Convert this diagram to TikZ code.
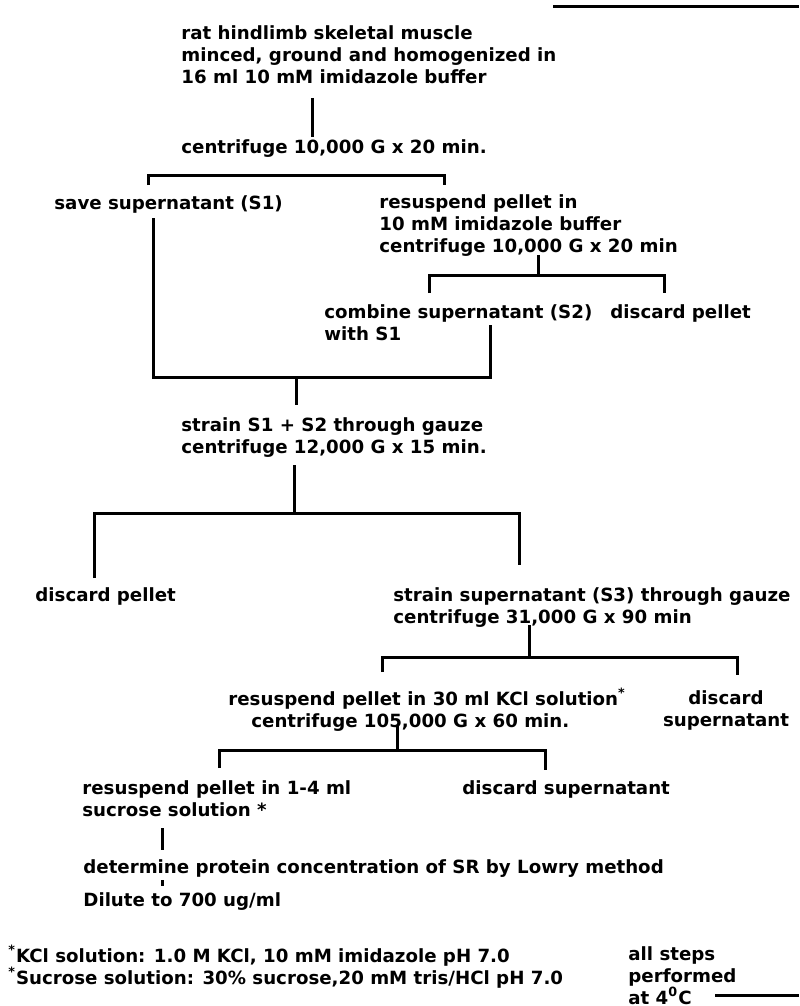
\documentclass[tikz,border=0pt]{standalone}
\usepackage{fontspec}
\setmainfont{DejaVu Sans}

\begin{document}
\begin{tikzpicture}[x=0.5pt,y=-0.5pt,
  every node/.style={font=\fontsize{9.1}{11.1}\selectfont\bfseries},
  tx/.style={anchor=north west,inner sep=0pt,align=left},
  ln/.style={line width=1.5pt}]
\useasboundingbox (0,0) rectangle (799,1006);
% text
\node[tx] (start) at (181,25) {rat hindlimb skeletal muscle\\minced, ground and homogenized in\\16 ml 10 mM imidazole buffer};
\node[tx] (cen1) at (181,139) {centrifuge 10,000 G x 20 min.};
\node[tx] (save) at (54,195) {save supernatant (S1)};
\node[tx] (res1) at (379,194) {resuspend pellet in\\10 mM imidazole buffer\\centrifuge 10,000 G x 20 min};
\node[tx] (comb) at (324,304) {combine supernatant (S2)\\with S1};
\node[tx] (dp1) at (610,304) {discard pellet};
\node[tx] (str1) at (181,417) {strain S1 + S2 through gauze\\centrifuge 12,000 G x 15 min.};
\node[tx] (dp2) at (35,587) {discard pellet};
\node[tx] (str2) at (393,587) {strain supernatant (S3) through gauze\\centrifuge 31,000 G x 90 min};
\node[tx] (res2) at (228,688) {resuspend pellet in 30 ml KCl solution\textsuperscript{*}\\\hspace*{11.5pt}centrifuge 105,000 G x 60 min.};
\node[tx,anchor=north,align=center] (ds1) at (726,690) {discard\\supernatant};
\node[tx] (res3) at (82,780) {resuspend pellet in 1-4 ml\\sucrose solution *};
\node[tx] (ds2) at (462,780) {discard supernatant};
\node[tx] (det) at (83,859) {determine protein concentration of SR by Lowry method};
\node[tx] (dil) at (83,892) {Dilute to 700 ug/ml};
\node[tx] (fn1) at (8,945) {\textsuperscript{*}KCl solution: 1.0 M KCl, 10 mM imidazole pH 7.0};
\node[tx] (fn2) at (8,967) {\textsuperscript{*}Sucrose solution: 30\% sucrose,20 mM tris/HCl pH 7.0};
\node[tx] (note) at (628,946) {all steps\\performed\\at 4\textsuperscript{0}C};
% junctions
\coordinate (r0a) at (553,7);   \coordinate (r0b) at (799,7);
\coordinate (v1a) at (312,98);  \coordinate (v1b) at (312,137);
\coordinate (b1l) at (148,175); \coordinate (b1r) at (444,175);
\coordinate (s1a) at (153,218); \coordinate (j1l) at (153,377);
\coordinate (j1r) at (490,377); \coordinate (s2a) at (490,325);
\coordinate (j1m) at (296,377); \coordinate (v3b) at (296,405);
\coordinate (v2a) at (538,255); \coordinate (b2m) at (538,275);
\coordinate (b2l) at (429,275); \coordinate (b2r) at (664,275);
\coordinate (v4a) at (294,465); \coordinate (b3m) at (294,513);
\coordinate (b3l) at (94,513);  \coordinate (b3r) at (519,513);
\coordinate (v5a) at (529,625); \coordinate (b4m) at (529,657);
\coordinate (b4l) at (382,657); \coordinate (b4r) at (737,657);
\coordinate (v6a) at (397,726); \coordinate (b5m) at (397,750);
\coordinate (b5l) at (219,750); \coordinate (b5r) at (545,750);
\coordinate (v7a) at (162,828); \coordinate (v7b) at (162,850);
\coordinate (v8a) at (162,880); \coordinate (v8b) at (162,886);
\coordinate (r1a) at (715,995); \coordinate (r1b) at (799,995);
% lines
\draw[ln] (r0a) -- (r0b);
\draw[ln] (v1a) -- (v1b);
\draw[ln] ([yshift=-5pt]b1l) -- (b1l) -- (b1r) -- ([yshift=-5pt]b1r);
\draw[ln] (s1a) -- (j1l) -- (j1r) -- (s2a);
\draw[ln] (j1m) -- (v3b);
\draw[ln] (v2a) -- (b2m);
\draw[ln] ([yshift=-9pt]b2l) -- (b2l) -- (b2r) -- ([yshift=-9pt]b2r);
\draw[ln] (v4a) -- (b3m);
\draw[ln] ([yshift=-32.5pt]b3l) -- (b3l) -- (b3r) -- ([yshift=-26pt]b3r);
\draw[ln] (v5a) -- (b4m);
\draw[ln] ([yshift=-7.5pt]b4l) -- (b4l) -- (b4r) -- ([yshift=-9pt]b4r);
\draw[ln] (v6a) -- (b5m);
\draw[ln] ([yshift=-9pt]b5l) -- (b5l) -- (b5r) -- ([yshift=-10pt]b5r);
\draw[ln] (v7a) -- (v7b);
\draw[ln] (v8a) -- (v8b);
\draw[ln] (r1a) -- (r1b);
\end{tikzpicture}
\end{document}
